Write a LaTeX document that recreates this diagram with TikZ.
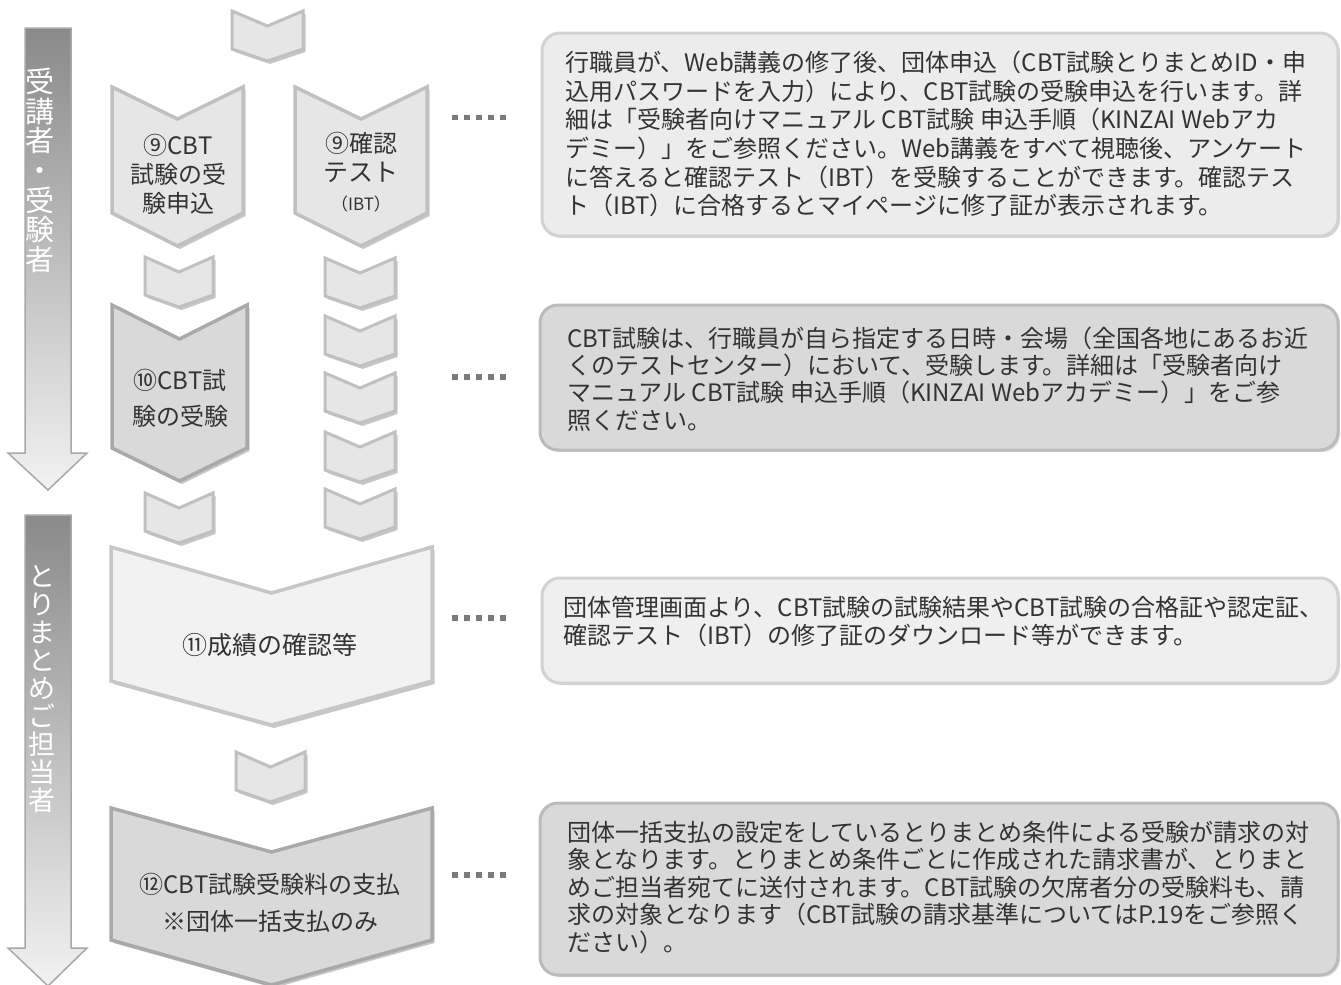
\documentclass[tikz,border=0pt]{standalone}
\usepackage{fontspec}
\setmainfont{Noto Sans CJK JP}
\usetikzlibrary{shadows}
\definecolor{txt}{HTML}{333333}
\definecolor{chlfill}{HTML}{E6E6E6}
\definecolor{chlline}{HTML}{C0C0C0}
\definecolor{chdfill}{HTML}{D9D9D9}
\definecolor{chdline}{HTML}{A9A9A9}
\definecolor{chwfill}{HTML}{F2F2F2}
\definecolor{chwline}{HTML}{C6C6C6}
\definecolor{boxl}{HTML}{ECECEC}
\definecolor{boxlline}{HTML}{D2D2D2}
\definecolor{boxw}{HTML}{EFEFEF}
\definecolor{boxd}{HTML}{D9D9D9}
\definecolor{boxdline}{HTML}{BBBBBB}
\definecolor{bandtop}{HTML}{8A8A8A}
\definecolor{bandbot}{HTML}{F2F2F2}
\definecolor{bandline}{HTML}{A8A8A8}
\definecolor{dotc}{HTML}{7A7A7A}
\newcommand\mychev[7]{%
  \path[#1] (#2,#4) -- ({(#2+#3)/2},#5) -- (#3,#4) -- (#3,#6) -- ({(#2+#3)/2},#7) -- (#2,#6) -- cycle;}
\newcommand\smallchev[3]{\mychev{smallch}{#1}{#2}{#3}{#3+15}{#3+38}{#3+50}}
\tikzset{
  shd/.style={drop shadow={shadow xshift=2.5pt,shadow yshift=-3pt,opacity=0.22,fill=black}},
  smallch/.style={draw=chlline,fill=chlfill,line width=3pt,line join=miter,shd},
  lightch/.style={draw=chlline,fill=chlfill,line width=3.5pt,shd},
  darkch/.style={draw=chdline,fill=chdfill,line width=3.5pt,shd},
  whitech/.style={draw=chwline,fill=chwfill,line width=3.5pt,shd},
  band/.style={draw=bandline,line width=1.5pt,top color=bandtop,bottom color=bandbot},
  vtext/.style={text=white,align=center,inner sep=0pt},
  chtext/.style={text=txt,align=center,inner sep=0pt,font=\fontsize{24}{29}\selectfont},
  tbox/.style={rounded corners=18pt,line width=3pt,inner sep=0pt,
     drop shadow={shadow xshift=2pt,shadow yshift=-2pt,opacity=0.15,fill=black}},
  lbox/.style={tbox,draw=boxlline,fill=boxl},
  wbox/.style={tbox,draw=boxlline,fill=boxw},
  dbox/.style={tbox,draw=boxdline,fill=boxd},
  btext/.style={text=txt,align=left,anchor=west,inner sep=0pt},
  dotsline/.style={draw=dotc,line width=5.5pt,dash pattern=on 5.5pt off 6.5pt},
}
\begin{document}
\begin{tikzpicture}[x=1pt,y=-1pt]
\useasboundingbox (0,0) rectangle (1341,985);
\fill[white] (0,0) rectangle (1341,985);

% left bands
\path[band] (25,28) -- (71,28) -- (71,453) -- (87,453) -- (48,490) -- (8,453) -- (25,453) -- cycle;
\path[band] (25,515) -- (71,515) -- (71,948) -- (87,948) -- (48,986) -- (8,948) -- (25,948) -- cycle;
\node[vtext,font=\fontsize{29}{29.6}\selectfont] (v1) at (40,170.5) {受\\講\\者\\・\\受\\験\\者};
\node[vtext,font=\fontsize{27}{28}\selectfont] (v2) at (42,689) {と\\り\\ま\\と\\め\\ご\\担\\当\\者};

% chevrons
\smallchev{232}{303}{11}
\mychev{lightch}{112}{243}{87}{119}{213}{246}
\mychev{lightch}{295}{427}{87}{119}{213}{246}
\smallchev{145}{213}{257}
\smallchev{325}{395}{258}
\smallchev{325}{395}{316}
\smallchev{325}{395}{373}
\smallchev{325}{395}{432}
\smallchev{325}{395}{489}
\mychev{darkch}{112}{247}{305}{339}{448}{481}
\smallchev{145}{213}{493}
\mychev{whitech}{111}{432}{547}{593}{681}{725}
\smallchev{236}{305}{752}
\mychev{darkch}{111}{432}{808}{852}{940}{985}

\node[chtext] (n9a) at (178,174) {⑨CBT\\試験の受\\験申込};
\node[chtext] (n9b) at (361,172) {⑨確認\\{\fontsize{25}{29}\selectfont テスト}\\{\fontsize{17}{18}\selectfont （IBT）}};
\node[chtext,font=\fontsize{24}{36}\selectfont] (n10) at (180,398) {⑩CBT試\\験の受験};
\node[chtext,font=\fontsize{25}{30}\selectfont] (n11) at (270,645) {⑪成績の確認等};
\node[chtext,font=\fontsize{24}{37}\selectfont] (n12) at (270,903) {⑫CBT試験受験料の支払\\※団体一括支払のみ};

% dotted leaders
\coordinate (d1a) at (452,117.5); \coordinate (d1b) at (506,117.5);
\coordinate (d2a) at (452,377);   \coordinate (d2b) at (506,377);
\coordinate (d3a) at (452,618);   \coordinate (d3b) at (506,618);
\coordinate (d4a) at (452,875);   \coordinate (d4b) at (506,875);
\draw[dotsline] (d1a) -- (d1b);
\draw[dotsline] (d2a) -- (d2b);
\draw[dotsline] (d3a) -- (d3b);
\draw[dotsline] (d4a) -- (d4b);

% text boxes
\node[lbox,minimum width=796pt,minimum height=203pt] (b1) at (940,134.5) {};
\node[dbox,minimum width=798pt,minimum height=145pt] (b2) at (939,377.5) {};
\node[wbox,minimum width=796pt,minimum height=105pt] (b3) at (940,630.5) {};
\node[dbox,minimum width=798pt,minimum height=172pt] (b4) at (939,889) {};

\node[btext,font=\fontsize{24}{28.6}\selectfont] (t1) at (565,134) {行職員が、Web講義の修了後、団体申込（CBT試験とりまとめID・申\\
込用パスワードを入力）により、CBT試験の受験申込を行います。詳\\
細は「受験者向けマニュアル CBT試験 申込手順（KINZAI Webアカ\\
デミー）」をご参照ください。Web講義をすべて視聴後、アンケート\\
に答えると確認テスト（IBT）を受験することができます。確認テス\\
ト（IBT）に合格するとマイページに修了証が表示されます。};
\node[btext,font=\fontsize{24}{27.4}\selectfont] (t2) at (567,379) {CBT試験は、行職員が自ら指定する日時・会場（全国各地にあるお近\\
くのテストセンター）において、受験します。詳細は「受験者向け\\
マニュアル CBT試験 申込手順（KINZAI Webアカデミー）」をご参\\
照ください。};
\node[btext,font=\fontsize{24}{27.4}\selectfont] (t3) at (563,621.5) {団体管理画面より、CBT試験の試験結果やCBT試験の合格証や認定証、\\
確認テスト（IBT）の修了証のダウンロード等ができます。};
\node[btext,font=\fontsize{24}{27.5}\selectfont] (t4) at (567,887) {団体一括支払の設定をしているとりまとめ条件による受験が請求の対\\
象となります。とりまとめ条件ごとに作成された請求書が、とりまと\\
めご担当者宛てに送付されます。CBT試験の欠席者分の受験料も、請\\
求の対象となります（CBT試験の請求基準についてはP.19をご参照く\\
ださい）。};
\end{tikzpicture}
\end{document}
